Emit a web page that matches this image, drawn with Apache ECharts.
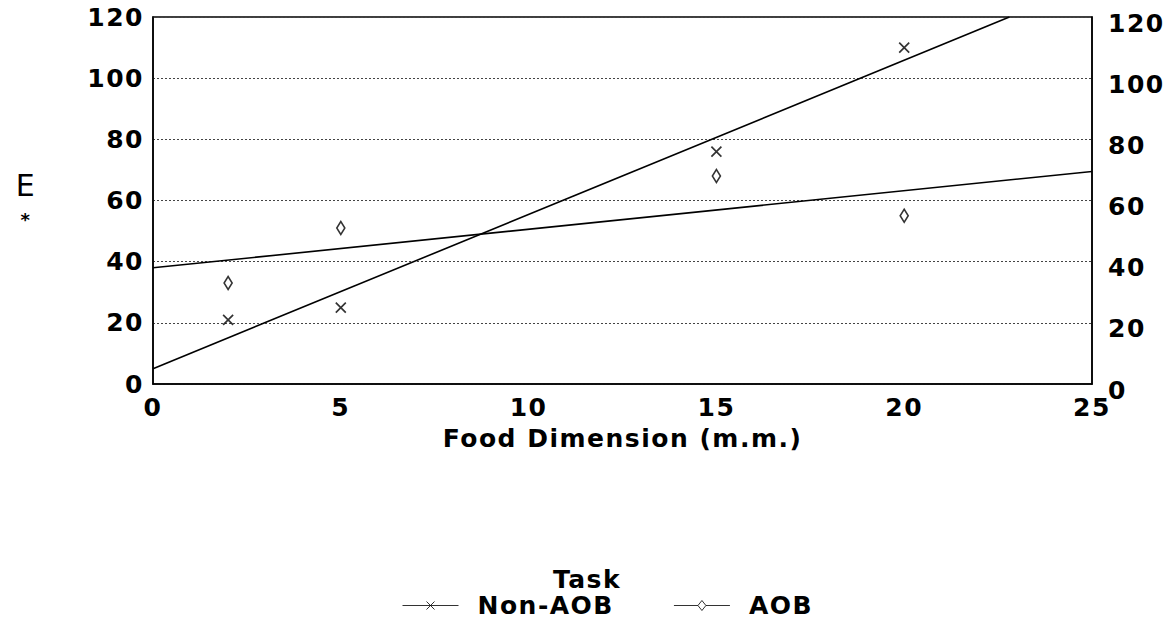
<!DOCTYPE html>
<html>
<head>
<meta charset="utf-8">
<script src="https://cdn.jsdelivr.net/npm/echarts@6/dist/echarts.min.js"></script>
<style>
  html, body { margin: 0; padding: 0; background: #fff; }
  #chart { width: 1174px; height: 621px; }
  /* the scanned chart uses a wide, loosely spaced typeface */
  #chart text { letter-spacing: 1.5px; }
</style>
</head>
<body>
<div id="chart"></div>
<script>
// food dimension (m.m.) of each measured task
const foodDim = [2, 5, 15, 20]
const nonAob = [21, 25, 76, 110]
const aob = [33, 51, 68, 55]
// fitted lines, end points
const nonAobFit = [[0, 5], [22.8, 120]]
const aobFit = [[0, 38], [25, 69.5]]
const yTicks = [0, 20, 40, 60, 80, 100, 120]

const font = 'DejaVu Sans'
const xMark = 'path://M0,0L10,10M10,0L0,10'

let mychart = echarts.init(document.getElementById('chart'), null, { renderer: 'svg' })

let axisY = (pos) => {
  let label = {
    color: '#000',
    fontSize: 25,
    fontFamily: font,
    fontWeight: 'bold',
    margin: 9
  }
  if (pos === 'right') {
    // right hand labels sit a little lower in the scan
    label.margin = 16
    label.verticalAlign = 'top'
    label.lineHeight = 12
  }
  return {
    type: 'value',
    position: pos,
    min: yTicks[0],
    max: yTicks[yTicks.length - 1],
    interval: 20,
    axisLine: { show: true, lineStyle: { color: '#000', width: 1.5 } },
    axisTick: { show: false },
    splitLine: pos === 'left' ? { show: true, lineStyle: { color: '#444', type: [2, 2], width: 1 } } : { show: false },
    axisLabel: label
  }
}

let options = {
  animation: false,
  backgroundColor: '#fff',
  title: {
    text: 'Task',
    left: 'center',
    top: 569,
    padding: 0,
    textStyle: { color: '#000', fontSize: 25, fontFamily: font, fontWeight: 'bold', lineHeight: 20 }
  },
  legend: {
    top: 593,
    left: 400,
    padding: 0,
    itemWidth: 56,
    itemHeight: 10,
    itemGap: 70,
    textStyle: { color: '#000', fontSize: 25, fontFamily: font, fontWeight: 'bold', lineHeight: 20, padding: [0, 0, 0, 14] },
    data: [
      {
        name: 'Non-AOB',
        icon: 'path://M0,5L56,5M24,1L32,9M32,1L24,9',
        itemStyle: { color: 'none', borderColor: '#000', borderWidth: 1 }
      },
      {
        name: 'AOB',
        icon: 'path://M0,5L24,5M32,5L56,5M28,0L32,5L28,10L24,5Z',
        itemStyle: { color: '#fff', borderColor: '#000', borderWidth: 1 }
      }
    ]
  },
  grid: { left: 153, right: 82, top: 17, bottom: 237, show: true, borderColor: '#000', borderWidth: 1.5 },
  xAxis: {
    type: 'value',
    min: 0,
    max: 25,
    interval: 5,
    name: 'Food Dimension (m.m.)',
    nameLocation: 'middle',
    nameGap: 42,
    nameTextStyle: { color: '#000', fontSize: 25, fontFamily: font, fontWeight: 'bold' },
    axisLine: { show: true, lineStyle: { color: '#000', width: 1.5 } },
    axisTick: { show: false },
    splitLine: { show: false },
    axisLabel: { color: '#000', fontSize: 25, fontFamily: font, fontWeight: 'bold', margin: 11 }
  },
  yAxis: [
    Object.assign(axisY('left'), {
      name: '{e|E}\n{s|*}',
      nameLocation: 'middle',
      nameRotate: 0,
      nameGap: 127,
      nameTextStyle: {
        color: '#000',
        fontFamily: font,
        align: 'center',
        verticalAlign: 'middle',
        rich: {
          e: { fontSize: 30, fontFamily: font, lineHeight: 32 },
          s: { fontSize: 18, fontFamily: font, fontWeight: 'bold', lineHeight: 30, padding: [6, 0, 0, 0] }
        }
      }
    }),
    axisY('right')
  ],
  series: [
    {
      name: 'Non-AOB',
      type: 'scatter',
      symbol: xMark,
      symbolSize: 10,
      itemStyle: { color: 'none', borderColor: '#000', borderWidth: 1.7 },
      data: foodDim.map((x, i) => [x, nonAob[i]])
    },
    {
      name: 'AOB',
      type: 'scatter',
      symbol: 'diamond',
      symbolSize: [8, 13],
      itemStyle: { color: '#fff', borderColor: '#000', borderWidth: 1.7 },
      data: foodDim.map((x, i) => [x, aob[i]])
    },
    {
      name: 'Non-AOB fit',
      type: 'line',
      showSymbol: false,
      silent: true,
      lineStyle: { color: '#000', width: 1.6 },
      data: nonAobFit
    },
    {
      name: 'AOB fit',
      type: 'line',
      showSymbol: false,
      silent: true,
      lineStyle: { color: '#000', width: 1.6 },
      data: aobFit
    }
  ]
}
mychart.setOption(options)
</script>
</body>
</html>
